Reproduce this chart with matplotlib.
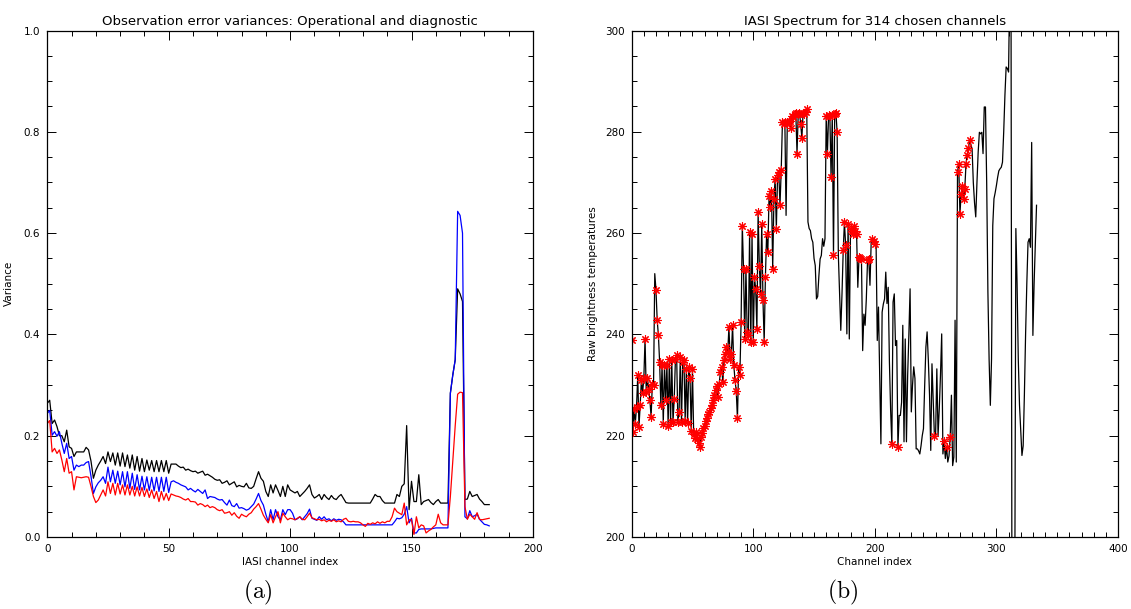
import numpy as np
import matplotlib
matplotlib.use("Agg")
from matplotlib import pyplot as plt
from matplotlib.ticker import MultipleLocator

# ---- panel (a): observation error variances per IASI channel
var_black = [
    .264, .270, .224, .231, .218, .200, .200, .188, .211, .178,
    .175, .159, .168, .168, .168, .168, .177, .172, .150, .116,
    .132, .142, .150, .159, .145, .168, .149, .166, .142, .166,
    .140, .166, .139, .162, .136, .162, .132, .159, .130, .155,
    .129, .152, .132, .151, .129, .151, .129, .151, .129, .151,
    .126, .144, .144, .144, .140, .137, .138, .132, .134, .131,
    .129, .130, .126, .128, .130, .122, .124, .121, .118, .114,
    .112, .113, .106, .108, .111, .103, .106, .109, .099, .102,
    .100, .099, .106, .097, .096, .100, .115, .129, .116, .110,
    .090, .080, .103, .087, .103, .092, .080, .100, .080, .103,
    .093, .090, .087, .090, .080, .085, .090, .096, .103, .084,
    .077, .080, .084, .074, .084, .078, .074, .082, .076, .074,
    .080, .084, .076, .068, .067, .067, .067, .067, .067, .067,
    .067, .067, .067, .067, .075, .084, .080, .080, .072, .067,
    .067, .067, .067, .067, .084, .080, .100, .105, .220, .054,
    .110, .070, .070, .123, .064, .070, .072, .074, .068, .064,
    .070, .074, .067, .067, .067, .067, .284, .320, .350, .490,
    .480, .465, .074, .075, .090, .080, .082, .084, .075, .070,
    .064, .064, .064]
var_blue = [
    .244, .250, .201, .208, .199, .208, .185, .165, .185, .155,
    .159, .132, .142, .139, .142, .142, .147, .149, .120, .086,
    .099, .107, .112, .119, .106, .138, .109, .132, .106, .130,
    .103, .129, .099, .129, .096, .126, .094, .123, .093, .120,
    .093, .119, .092, .118, .091, .118, .090, .118, .090, .118,
    .088, .109, .111, .108, .106, .103, .101, .099, .093, .096,
    .092, .089, .094, .090, .086, .093, .076, .080, .079, .078,
    .075, .073, .074, .068, .063, .073, .062, .060, .066, .057,
    .058, .056, .053, .055, .060, .065, .075, .086, .072, .063,
    .045, .030, .054, .034, .054, .040, .034, .054, .044, .054,
    .054, .047, .034, .036, .040, .034, .040, .046, .055, .037,
    .035, .033, .040, .035, .040, .034, .036, .032, .036, .033,
    .035, .034, .030, .024, .024, .024, .024, .024, .024, .024,
    .024, .024, .024, .024, .024, .024, .024, .024, .024, .024,
    .024, .024, .024, .030, .037, .036, .038, .045, .060, .028,
    .037, .008, .008, .015, .016, .016, .016, .016, .016, .017,
    .018, .018, .018, .018, .018, .018, .284, .320, .350, .643,
    .635, .600, .040, .036, .052, .040, .042, .045, .035, .030,
    .025, .024, .022]
var_red = [
    .224, .230, .168, .175, .165, .172, .152, .129, .155, .126,
    .129, .093, .119, .118, .117, .118, .119, .118, .100, .080,
    .068, .073, .083, .093, .081, .109, .086, .106, .083, .106,
    .085, .103, .083, .103, .083, .100, .081, .099, .081, .098,
    .080, .095, .078, .093, .076, .090, .070, .090, .073, .086,
    .072, .085, .083, .081, .080, .078, .075, .073, .076, .070,
    .070, .069, .063, .066, .064, .060, .063, .058, .060, .058,
    .054, .052, .054, .047, .048, .050, .043, .048, .041, .037,
    .045, .042, .040, .045, .048, .055, .060, .066, .055, .043,
    .035, .028, .044, .028, .040, .050, .028, .047, .040, .034,
    .037, .036, .034, .037, .040, .035, .034, .040, .047, .038,
    .036, .034, .035, .032, .034, .030, .033, .031, .034, .030,
    .032, .030, .035, .037, .031, .030, .031, .030, .030, .028,
    .024, .021, .027, .025, .028, .026, .030, .027, .030, .028,
    .031, .031, .040, .057, .050, .047, .044, .067, .024, .034,
    .034, .005, .040, .018, .024, .022, .008, .012, .015, .020,
    .024, .045, .028, .024, .024, .024, .080, .150, .220, .282,
    .286, .285, .060, .035, .045, .040, .035, .048, .035, .034,
    .035, .036, .037]
chan_a = np.arange(len(var_black))

# ---- panel (b): raw brightness temperatures
tb = [
    238.8, 220.7, 225.3, 222.4, 225.7, 231.9, 221.7, 226.0, 231.0, 228.5,
    231.3, 239.1, 228.6, 231.3, 229.3, 227.0, 223.7, 230.3, 230.0, 252.0,
    248.8, 242.8, 239.8, 234.5, 226.0, 233.9, 222.4, 233.9, 227.0, 233.9,
    222.0, 235.2, 222.7, 234.9, 222.7, 227.3, 235.2, 235.9, 222.7, 224.7,
    235.5, 222.7, 234.5, 235.0, 223.0, 233.2, 222.5, 233.6, 231.3, 221.0,
    233.2, 220.4, 219.5, 220.8, 219.4, 218.5, 217.8, 219.7, 220.5, 221.5,
    222.0, 223.0, 223.4, 224.2, 224.7, 225.5, 226.0, 227.0, 228.0, 229.0,
    229.9, 227.6, 230.3, 232.6, 233.6, 230.6, 235.0, 236.2, 237.5, 236.5,
    241.4, 235.2, 236.2, 241.8, 233.9, 231.0, 228.9, 223.4, 233.6, 231.9,
    242.4, 261.5, 253.0, 239.1, 253.0, 240.5, 239.8, 260.2, 238.5, 259.9,
    238.5, 251.3, 249.0, 241.0, 264.1, 253.6, 248.0, 261.8, 246.7, 238.5,
    251.3, 259.9, 256.3, 267.4, 265.1, 268.4, 253.0, 266.8, 270.7, 260.9,
    271.4, 272.0, 265.5, 272.4, 281.9, 281.6, 282.0, 263.5, 281.9, 282.0,
    282.2, 280.7, 283.2, 283.0, 283.6, 283.8, 275.7, 283.6, 283.8, 281.6,
    278.8, 283.8, 283.5, 284.0, 284.5, 262.2, 260.9, 260.5, 258.9, 258.2,
    255.0, 253.6, 247.0, 247.5, 251.6, 254.9, 255.6, 258.9, 257.4, 258.9,
    283.2, 275.7, 283.4, 283.2, 271.1, 283.3, 255.6, 283.6, 283.8, 279.9,
    255.6, 248.0, 240.8, 248.0, 256.6, 262.2, 257.6, 240.1, 261.8, 239.1,
    260.9, 260.5, 259.9, 261.5, 260.5, 259.9, 249.3, 255.3, 255.0, 254.9,
    236.8, 244.0, 241.8, 247.0, 254.6, 254.9, 249.7, 258.2, 258.9, 258.5,
    257.9, 258.5, 238.8, 245.4, 232.0, 218.4, 244.4, 246.0, 247.0, 252.3,
    246.1, 249.3, 234.5, 225.0, 218.4, 246.4, 248.0, 237.8, 238.8, 217.8,
    224.0, 224.0, 226.6, 241.8, 218.8, 239.1, 218.8, 231.9, 240.0, 249.0,
    224.7, 230.0, 233.6, 231.3, 217.4, 217.4, 217.0, 216.4, 218.0, 220.0,
    221.4, 229.9, 237.5, 240.5, 235.0, 228.0, 217.1, 234.2, 227.3, 220.0,
    220.3, 233.2, 220.0, 225.3, 232.0, 240.1, 216.4, 219.0, 215.5, 217.8,
    214.8, 216.0, 219.7, 228.0, 214.1, 215.8, 242.8, 214.8, 272.0, 273.7,
    263.8, 267.8, 269.4, 266.8, 268.8, 273.7, 275.5, 276.8, 278.3, 277.5,
    276.6, 270.0, 266.0, 263.2, 270.0, 276.0, 279.9, 279.6, 279.9, 275.7,
    284.9, 284.9, 270.0, 248.4, 235.0, 226.0, 235.2, 261.5, 266.8, 268.0,
    269.4, 271.0, 272.3, 272.7, 273.0, 274.0, 280.0, 287.2, 292.8, 292.5,
    291.8, 310.0, 310.0, 150.0, 150.0, 180.0, 260.9, 250.0, 235.0, 226.0,
    221.0, 216.1, 218.0, 228.0, 240.0, 250.0, 258.2, 258.9, 257.2, 277.9,
    239.8, 250.0, 258.0, 265.5]
chan_b = np.arange(len(tb))
# channels marked with a red asterisk
chosen = (list(range(0, 19)) + list(range(20, 127)) + list(range(128, 145))
          + list(range(160, 170)) + [174, 175, 176, 178]
          + list(range(180, 186)) + [187, 188, 189, 194, 195, 198, 199, 200,
                                     214, 219, 249, 257, 259, 262]
          + list(range(268, 279)))

plt.rcParams['mathtext.fontset'] = 'cm'
plt.rcParams['font.family'] = 'DejaVu Sans'

fig = plt.figure(figsize=(11.31, 6.09), dpi=100)
ax1 = fig.add_axes([0.0418, 0.1182, 0.4294, 0.8317])
ax2 = fig.add_axes([0.5585, 0.1182, 0.4300, 0.8317])


def idl_style(ax, xmaj, xmin, ymaj, ymin):
    ax.xaxis.set_major_locator(MultipleLocator(xmaj))
    ax.xaxis.set_minor_locator(MultipleLocator(xmin))
    ax.yaxis.set_major_locator(MultipleLocator(ymaj))
    ax.yaxis.set_minor_locator(MultipleLocator(ymin))
    ax.tick_params(which='both', direction='in', top=True, right=True,
                   width=0.7, labelsize=7.5, pad=5)
    ax.tick_params(which='major', length=6.8)
    ax.tick_params(which='minor', length=3.6)
    for s in ax.spines.values():
        s.set_linewidth(0.9)


ax1.plot(chan_a, var_black, color='black', lw=0.9)
ax1.plot(chan_a, var_blue, color='blue', lw=0.9)
ax1.plot(chan_a, var_red, color='red', lw=0.9)
ax1.set_xlim(0, 200)
ax1.set_ylim(0, 1)
idl_style(ax1, 50, 10, 0.2, 0.05)
ax1.set_title('Observation error variances: Operational and diagnostic',
              fontsize=9.5, pad=4)
ax1.set_xlabel('IASI channel index', fontsize=7.5, labelpad=2)
ax1.set_ylabel('Variance', fontsize=7.5, labelpad=7)

ax2.plot(chan_b, tb, color='black', lw=0.9)
sel = np.array(chosen)
ax2.plot(chan_b[sel], np.array(tb)[sel], linestyle='none', marker=(8, 2, 0),
         color='red', markersize=6, markeredgewidth=0.8)
ax2.set_xlim(0, 400)
ax2.set_ylim(200, 300)
idl_style(ax2, 100, 10, 20, 5)
ax2.set_title('IASI Spectrum for 314 chosen channels', fontsize=9.5, pad=4)
ax2.set_xlabel('Channel index', fontsize=7.5, labelpad=2)
ax2.set_ylabel('Raw brightness temperatures', fontsize=7.5, labelpad=5)

fig.text(258 / 1131, 1 - 592 / 609, r'$\mathrm{(a)}$', fontsize=17,
         ha='center', va='center')
fig.text(843 / 1131, 1 - 592 / 609, r'$\mathrm{(b)}$', fontsize=17,
         ha='center', va='center')

fig.savefig('out.png', dpi=100)
